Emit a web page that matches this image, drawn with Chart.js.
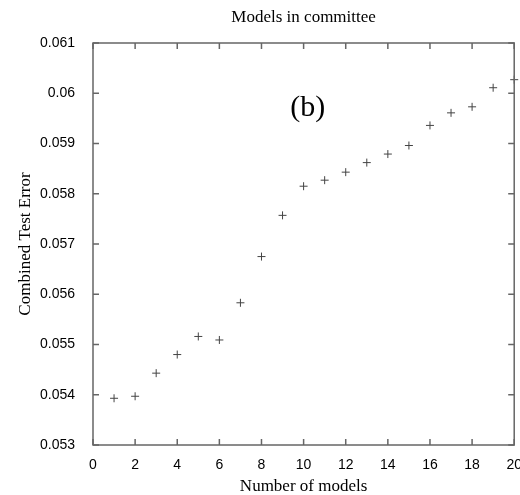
<!DOCTYPE html>
<html>
<head>
<meta charset="utf-8">
<script src="https://cdn.jsdelivr.net/npm/chart.js@4.4.0/dist/chart.umd.min.js"></script>
<style>
  html, body { margin: 0; padding: 0; background: #fff; overflow: hidden; }
  #wrap { width: 526px; height: 495px; }
</style>
</head>
<body>
<div id="wrap"><canvas id="myChart"></canvas></div>
<script>
// data
var models = [1, 2, 3, 4, 5, 6, 7, 8, 9, 10, 11, 12, 13, 14, 15, 16, 17, 18, 19, 20];
var testError = [0.05393, 0.05397, 0.05443, 0.05480, 0.05516, 0.05509, 0.05583, 0.05675, 0.05757, 0.05815,
                 0.05827, 0.05843, 0.05862, 0.05879, 0.05896, 0.05936, 0.05961, 0.05973, 0.06011, 0.06027];
var titleText = "Models in committee";
var panelLabel = "(b)";

var points = [];
for (var i = 0; i < models.length; i++) {
  points.push({x: models[i], y: testError[i]});
}

// frame with inward ticks on all four sides, title and panel label
var framePlugin = {
  id: 'frame',
  afterDraw: function(chart) {
    var ctx = chart.ctx;
    var a = chart.chartArea;
    var xs = chart.scales.x, ys = chart.scales.y;
    ctx.save();
    ctx.strokeStyle = '#666';
    ctx.lineWidth = 1.5;
    ctx.strokeRect(a.left, a.top, a.right - a.left, a.bottom - a.top);
    ctx.beginPath();
    xs.ticks.forEach(function(t) {
      var px = xs.getPixelForValue(t.value);
      ctx.moveTo(px, a.bottom); ctx.lineTo(px, a.bottom - 6);
      ctx.moveTo(px, a.top); ctx.lineTo(px, a.top + 6);
    });
    ys.ticks.forEach(function(t) {
      var py = ys.getPixelForValue(t.value);
      ctx.moveTo(a.left, py); ctx.lineTo(a.left + 6, py);
      ctx.moveTo(a.right, py); ctx.lineTo(a.right - 6, py);
    });
    ctx.stroke();

    ctx.fillStyle = '#000';
    ctx.textAlign = 'center';
    ctx.textBaseline = 'middle';
    ctx.font = '17px "Liberation Serif"';
    ctx.fillText(titleText, (a.left + a.right) / 2, 18);
    ctx.font = '30px "Liberation Serif"';
    ctx.fillText(panelLabel, xs.getPixelForValue(10.2), ys.getPixelForValue(0.0597));
    ctx.restore();
  }
};

var ctx = document.getElementById('myChart').getContext('2d');
var chart = new Chart(ctx, {
  type: 'scatter',
  data: {
    datasets: [{
      label: 'Combined Test Error',
      data: points,
      pointStyle: 'cross',
      pointRadius: 4,
      pointBorderWidth: 1,
      borderColor: '#444',
      backgroundColor: '#444',
      clip: false
    }]
  },
  options: {
    responsive: true,
    maintainAspectRatio: false,
    animation: false,
    events: [],
    layout: { padding: { top: 43, right: 0, left: 0, bottom: 0 } },
    plugins: {
      legend: { display: false },
      title: { display: false },
      tooltip: { enabled: false }
    },
    scales: {
      x: {
        type: 'linear',
        min: 0,
        max: 20,
        grid: { display: false },
        border: { display: false },
        ticks: {
          stepSize: 2,
          padding: 4,
          color: '#000',
          font: { family: 'Liberation Sans', size: 14 }
        },
        title: {
          display: true,
          text: 'Number of models',
          color: '#000',
          font: { family: 'Liberation Serif', size: 17, lineHeight: 1.0 },
          padding: { top: 2, bottom: 0 }
        },
        afterFit: function(s) { s.height = 50; }
      },
      y: {
        min: 0.053,
        max: 0.061,
        grid: { display: false },
        border: { display: false },
        ticks: {
          stepSize: 0.001,
          padding: 10,
          color: '#000',
          font: { family: 'Liberation Sans', size: 14 },
          callback: function(v) { return String(+v.toFixed(3)); }
        },
        title: {
          display: true,
          text: 'Combined Test Error',
          color: '#000',
          font: { family: 'Liberation Serif', size: 17 },
          padding: { top: 15, bottom: 0 }
        },
        afterFit: function(s) { s.width = 93; }
      }
    }
  },
  plugins: [framePlugin]
});
</script>
</body>
</html>
